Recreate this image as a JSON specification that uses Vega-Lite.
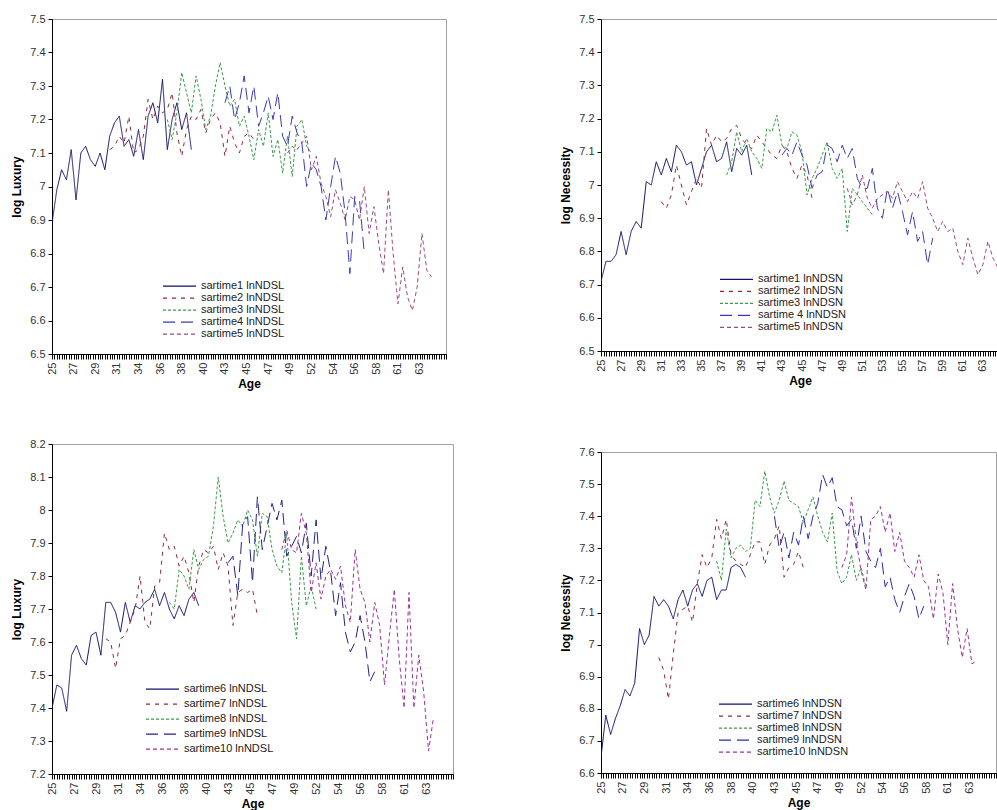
{
"$schema": "https://vega.github.io/schema/vega-lite/v6.json",
"background": "white",
"padding": {"left": 10, "top": 12, "right": 0, "bottom": 0},
"spacing": 100,
"resolve": {"scale": {"color": "independent", "strokeDash": "independent"}, "legend": {"color": "independent", "strokeDash": "independent"}},
"config": {
  "font": "Liberation Sans",
  "view": {"stroke": "#a0a0a0", "strokeWidth": 1},
  "axis": {"grid": false, "domainColor": "#000000", "tickColor": "#000000", "labelColor": "#333333", "labelFontSize": 11, "titleFontSize": 12, "titleFontWeight": "bold", "titleColor": "#000000", "labelFont": "Liberation Sans", "titleFont": "Liberation Sans"},
  "axisX": {"labelAngle": -90, "labelAlign": "right", "labelBaseline": "middle", "tickSize": 5, "labelOverlap": false, "labelFlush": false, "labelPadding": 3, "titlePadding": 4},
  "axisY": {"tickSize": 4, "labelPadding": 3, "titlePadding": 6, "labelOverlap": false},
  "legend": {"orient": "none", "symbolType": "stroke", "symbolSize": 1089, "symbolStrokeWidth": 1.2, "labelFontSize": 11, "labelColor": "#222222", "rowPadding": 0, "labelOffset": 4, "padding": 0}
},
"datasets": {
"tl": [
{"Age":25,"sartime1":6.89},{"Age":25.5,"sartime1":6.99},{"Age":26,"sartime1":7.05},{"Age":26.5,"sartime1":7.02},{"Age":27,"sartime1":7.11},{"Age":27.5,"sartime1":6.96},{"Age":28,"sartime1":7.10},{"Age":28.5,"sartime1":7.12},{"Age":29,"sartime1":7.08},{"Age":29.5,"sartime1":7.06},{"Age":30,"sartime1":7.10},{"Age":30.5,"sartime1":7.05},
{"Age":31,"sartime1":7.15,"sartime2":7.11},{"Age":31.5,"sartime1":7.19,"sartime2":7.12},{"Age":32,"sartime1":7.21,"sartime2":7.15},{"Age":32.5,"sartime1":7.12,"sartime2":7.13},{"Age":33,"sartime1":7.14,"sartime2":7.21},{"Age":33.5,"sartime1":7.09,"sartime2":7.10},{"Age":34,"sartime1":7.17,"sartime2":7.11},{"Age":34.5,"sartime1":7.08,"sartime2":7.15},{"Age":35,"sartime1":7.21,"sartime2":7.26},{"Age":35.5,"sartime1":7.25,"sartime2":7.20},{"Age":36,"sartime1":7.19,"sartime2":7.24},{"Age":36.5,"sartime1":7.32,"sartime2":7.22},
{"Age":37,"sartime1":7.11,"sartime2":7.23,"sartime3":7.20},{"Age":37.5,"sartime1":7.20,"sartime2":7.28,"sartime3":7.14},{"Age":38,"sartime1":7.25,"sartime2":7.16,"sartime3":7.22},{"Age":38.5,"sartime1":7.17,"sartime2":7.09,"sartime3":7.34},{"Age":39,"sartime1":7.22,"sartime2":7.17,"sartime3":7.28},{"Age":39.5,"sartime1":7.11,"sartime2":7.21,"sartime3":7.22},
{"Age":40,"sartime2":7.20,"sartime3":7.33},{"Age":40.5,"sartime2":7.23,"sartime3":7.26},{"Age":41,"sartime2":7.16,"sartime3":7.17},{"Age":41.5,"sartime2":7.20,"sartime3":7.21},{"Age":42,"sartime2":7.22,"sartime3":7.30},{"Age":42.5,"sartime2":7.19,"sartime3":7.37},
{"Age":43,"sartime2":7.09,"sartime3":7.30,"sartime4":7.25},{"Age":43.5,"sartime2":7.18,"sartime3":7.24,"sartime4":7.30},{"Age":44,"sartime2":7.13,"sartime3":7.26,"sartime4":7.20},{"Age":44.5,"sartime2":7.10,"sartime3":7.18,"sartime4":7.25},{"Age":45,"sartime2":7.15,"sartime3":7.21,"sartime4":7.33},{"Age":45.5,"sartime2":7.16,"sartime3":7.15,"sartime4":7.22},{"Age":46,"sartime2":7.14,"sartime3":7.08,"sartime4":7.30},
{"Age":46.5,"sartime3":7.17,"sartime4":7.18},{"Age":47,"sartime3":7.12,"sartime4":7.22},{"Age":47.5,"sartime3":7.22,"sartime4":7.27},{"Age":48,"sartime3":7.09,"sartime4":7.20},{"Age":48.5,"sartime3":7.14,"sartime4":7.28},{"Age":49,"sartime3":7.04,"sartime4":7.15},
{"Age":49.5,"sartime3":7.15,"sartime4":7.12,"sartime5":7.10},{"Age":50,"sartime3":7.03,"sartime4":7.21,"sartime5":7.12},{"Age":50.5,"sartime3":7.18,"sartime4":7.16,"sartime5":7.11},{"Age":51,"sartime3":7.20,"sartime4":7.13,"sartime5":7.13},{"Age":51.5,"sartime3":7.12,"sartime4":7.00,"sartime5":7.15},{"Age":52,"sartime3":7.10,"sartime4":7.07,"sartime5":7.05},
{"Age":52.5,"sartime4":7.05,"sartime5":7.09},{"Age":53,"sartime4":7.00,"sartime5":7.01},{"Age":53.5,"sartime4":6.90,"sartime5":6.97},{"Age":54,"sartime4":7.00,"sartime5":6.91},{"Age":54.5,"sartime4":7.09,"sartime5":6.99},{"Age":55,"sartime4":7.04,"sartime5":6.95},{"Age":55.5,"sartime4":6.92,"sartime5":6.90},{"Age":56,"sartime4":6.74,"sartime5":6.97},{"Age":56.5,"sartime4":6.97,"sartime5":6.96},{"Age":57,"sartime4":6.96,"sartime5":6.90},{"Age":57.5,"sartime4":6.80,"sartime5":7.00},
{"Age":58,"sartime5":6.86},{"Age":58.5,"sartime5":6.94},{"Age":59,"sartime5":6.83},{"Age":59.5,"sartime5":6.74},{"Age":60,"sartime5":6.99},{"Age":60.5,"sartime5":6.80},{"Age":61,"sartime5":6.65},{"Age":61.5,"sartime5":6.76},{"Age":62,"sartime5":6.67},{"Age":62.5,"sartime5":6.63},{"Age":63,"sartime5":6.70},{"Age":63.5,"sartime5":6.86},{"Age":64,"sartime5":6.75},{"Age":64.5,"sartime5":6.73}
],
"tr": [
{"Age":25,"sartime1":6.71},{"Age":25.5,"sartime1":6.77},{"Age":26,"sartime1":6.77},{"Age":26.5,"sartime1":6.79},{"Age":27,"sartime1":6.86},{"Age":27.5,"sartime1":6.79},{"Age":28,"sartime1":6.86},{"Age":28.5,"sartime1":6.89},{"Age":29,"sartime1":6.87},{"Age":29.5,"sartime1":7.01},{"Age":30,"sartime1":7.00},{"Age":30.5,"sartime1":7.07},
{"Age":31,"sartime1":7.03,"sartime2":6.95},{"Age":31.5,"sartime1":7.08,"sartime2":6.93},{"Age":32,"sartime1":7.04,"sartime2":6.97},{"Age":32.5,"sartime1":7.12,"sartime2":7.06},{"Age":33,"sartime1":7.10,"sartime2":7.00},{"Age":33.5,"sartime1":7.06,"sartime2":6.94},{"Age":34,"sartime1":7.07,"sartime2":6.98},{"Age":34.5,"sartime1":7.00,"sartime2":7.02},{"Age":35,"sartime1":7.05,"sartime2":6.99},{"Age":35.5,"sartime1":7.10,"sartime2":7.17},{"Age":36,"sartime1":7.12,"sartime2":7.12},{"Age":36.5,"sartime1":7.07,"sartime2":7.15},{"Age":37,"sartime1":7.08,"sartime2":7.13},
{"Age":37.5,"sartime1":7.13,"sartime2":7.14,"sartime3":7.03},{"Age":38,"sartime1":7.04,"sartime2":7.17,"sartime3":7.07},{"Age":38.5,"sartime1":7.11,"sartime2":7.18,"sartime3":7.16},{"Age":39,"sartime1":7.09,"sartime2":7.14,"sartime3":7.10},{"Age":39.5,"sartime1":7.12,"sartime2":7.12,"sartime3":7.14},{"Age":40,"sartime1":7.03,"sartime2":7.11,"sartime3":7.10},
{"Age":40.5,"sartime2":7.15,"sartime3":7.08},{"Age":41,"sartime2":7.13,"sartime3":7.05},{"Age":41.5,"sartime2":7.11,"sartime3":7.17},{"Age":42,"sartime2":7.09,"sartime3":7.16},{"Age":42.5,"sartime2":7.08,"sartime3":7.21},
{"Age":43,"sartime2":7.12,"sartime3":7.12,"sartime 4":7.09},{"Age":43.5,"sartime2":7.10,"sartime3":7.11,"sartime 4":7.11},{"Age":44,"sartime2":7.05,"sartime3":7.16,"sartime 4":7.09},{"Age":44.5,"sartime2":7.02,"sartime3":7.15,"sartime 4":7.13},{"Age":45,"sartime2":7.06,"sartime3":7.10,"sartime 4":7.09},{"Age":45.5,"sartime2":7.03,"sartime3":6.97,"sartime 4":7.06},{"Age":46,"sartime2":6.96,"sartime3":7.02,"sartime 4":6.99},
{"Age":46.5,"sartime3":7.05,"sartime 4":7.03},{"Age":47,"sartime3":7.09,"sartime 4":7.04},{"Age":47.5,"sartime3":7.13,"sartime 4":7.12},{"Age":48,"sartime3":7.05,"sartime 4":7.11},{"Age":48.5,"sartime3":7.02,"sartime 4":7.07},{"Age":49,"sartime3":7.05,"sartime 4":7.12},
{"Age":49.5,"sartime3":6.86,"sartime 4":7.08,"sartime5":6.99},{"Age":50,"sartime3":6.99,"sartime 4":7.11,"sartime5":6.94},{"Age":50.5,"sartime3":6.97,"sartime 4":7.02,"sartime5":6.97},{"Age":51,"sartime3":6.95,"sartime 4":6.99,"sartime5":7.03},{"Age":51.5,"sartime3":6.93,"sartime 4":6.99,"sartime5":6.96},{"Age":52,"sartime3":6.91,"sartime 4":7.05,"sartime5":6.93},
{"Age":52.5,"sartime 4":6.93,"sartime5":6.96},{"Age":53,"sartime 4":6.90,"sartime5":6.97},{"Age":53.5,"sartime 4":6.99,"sartime5":6.98},{"Age":54,"sartime 4":6.93,"sartime5":6.96},{"Age":54.5,"sartime 4":6.98,"sartime5":7.01},{"Age":55,"sartime 4":6.92,"sartime5":6.98},{"Age":55.5,"sartime 4":6.85,"sartime5":6.95},{"Age":56,"sartime 4":6.92,"sartime5":6.98},{"Age":56.5,"sartime 4":6.83,"sartime5":6.96},{"Age":57,"sartime 4":6.86,"sartime5":7.01},{"Age":57.5,"sartime 4":6.76,"sartime5":6.93},{"Age":58,"sartime 4":6.84,"sartime5":6.90},
{"Age":58.5,"sartime5":6.86},{"Age":59,"sartime5":6.89},{"Age":59.5,"sartime5":6.86},{"Age":60,"sartime5":6.87},{"Age":60.5,"sartime5":6.80},{"Age":61,"sartime5":6.76},{"Age":61.5,"sartime5":6.84},{"Age":62,"sartime5":6.78},{"Age":62.5,"sartime5":6.73},{"Age":63,"sartime5":6.76},{"Age":63.5,"sartime5":6.83},{"Age":64,"sartime5":6.78},{"Age":64.5,"sartime5":6.75},{"Age":65,"sartime5":6.77},{"Age":65.5,"sartime5":6.76}
],
"bl": [
{"Age":25,"sartime6":7.40},{"Age":25.5,"sartime6":7.47},{"Age":26,"sartime6":7.46},{"Age":26.5,"sartime6":7.39},{"Age":27,"sartime6":7.56},{"Age":27.5,"sartime6":7.59},{"Age":28,"sartime6":7.55},{"Age":28.5,"sartime6":7.53},{"Age":29,"sartime6":7.62},{"Age":29.5,"sartime6":7.63},{"Age":30,"sartime6":7.56},
{"Age":30.5,"sartime6":7.72,"sartime7":7.61},{"Age":31,"sartime6":7.72,"sartime7":7.60},{"Age":31.5,"sartime6":7.69,"sartime7":7.52},{"Age":32,"sartime6":7.63,"sartime7":7.61},{"Age":32.5,"sartime6":7.72,"sartime7":7.62},{"Age":33,"sartime6":7.66,"sartime7":7.66},{"Age":33.5,"sartime6":7.71,"sartime7":7.70},{"Age":34,"sartime6":7.70,"sartime7":7.80},{"Age":34.5,"sartime6":7.72,"sartime7":7.66},{"Age":35,"sartime6":7.73,"sartime7":7.64},{"Age":35.5,"sartime6":7.76,"sartime7":7.77},{"Age":36,"sartime6":7.71,"sartime7":7.78},{"Age":36.5,"sartime6":7.75,"sartime7":7.93},
{"Age":37,"sartime6":7.70,"sartime7":7.88,"sartime8":7.72},{"Age":37.5,"sartime6":7.67,"sartime7":7.89,"sartime8":7.70},{"Age":38,"sartime6":7.71,"sartime7":7.83,"sartime8":7.82},{"Age":38.5,"sartime6":7.68,"sartime7":7.86,"sartime8":7.80},{"Age":39,"sartime6":7.73,"sartime7":7.81,"sartime8":7.76},{"Age":39.5,"sartime6":7.75,"sartime7":7.72,"sartime8":7.88},{"Age":40,"sartime6":7.71,"sartime7":7.83,"sartime8":7.82},
{"Age":40.5,"sartime7":7.88,"sartime8":7.85},{"Age":41,"sartime7":7.87,"sartime8":7.86},{"Age":41.5,"sartime7":7.89,"sartime8":7.95},{"Age":42,"sartime7":7.82,"sartime8":8.10},{"Age":42.5,"sartime7":7.87,"sartime8":7.98},
{"Age":43,"sartime7":7.83,"sartime8":7.90,"sartime9":7.84},{"Age":43.5,"sartime7":7.65,"sartime8":7.93,"sartime9":7.86},{"Age":44,"sartime7":7.75,"sartime8":7.97,"sartime9":7.74},{"Age":44.5,"sartime7":7.76,"sartime8":7.95,"sartime9":7.96},{"Age":45,"sartime7":7.75,"sartime8":8.00,"sartime9":7.98},{"Age":45.5,"sartime7":7.76,"sartime8":7.97,"sartime9":7.78},{"Age":46,"sartime7":7.68,"sartime8":7.86,"sartime9":8.04},
{"Age":46.5,"sartime8":7.99,"sartime9":7.88},{"Age":47,"sartime8":7.98,"sartime9":7.95},{"Age":47.5,"sartime8":7.88,"sartime9":8.02},{"Age":48,"sartime8":7.83,"sartime9":7.97},
{"Age":48.5,"sartime8":7.81,"sartime9":8.03,"sartime10":7.88},{"Age":49,"sartime8":7.93,"sartime9":7.86,"sartime10":7.94},{"Age":49.5,"sartime8":7.72,"sartime9":7.89,"sartime10":7.88},{"Age":50,"sartime8":7.61,"sartime9":7.92,"sartime10":7.87},{"Age":50.5,"sartime8":7.86,"sartime9":7.87,"sartime10":7.99},{"Age":51,"sartime8":7.71,"sartime9":7.96,"sartime10":7.93},{"Age":51.5,"sartime8":7.77,"sartime9":7.80,"sartime10":7.75},{"Age":52,"sartime8":7.70,"sartime9":7.97,"sartime10":7.84},
{"Age":52.5,"sartime9":7.79,"sartime10":7.73},{"Age":53,"sartime9":7.89,"sartime10":7.80},{"Age":53.5,"sartime9":7.81,"sartime10":7.82},{"Age":54,"sartime9":7.68,"sartime10":7.79},{"Age":54.5,"sartime9":7.78,"sartime10":7.83},{"Age":55,"sartime9":7.63,"sartime10":7.71},{"Age":55.5,"sartime9":7.57,"sartime10":7.66},{"Age":56,"sartime9":7.60,"sartime10":7.88},{"Age":56.5,"sartime9":7.68,"sartime10":7.76},{"Age":57,"sartime9":7.60,"sartime10":7.72},{"Age":57.5,"sartime9":7.48,"sartime10":7.60},{"Age":58,"sartime9":7.51,"sartime10":7.72},
{"Age":58.5,"sartime10":7.65},{"Age":59,"sartime10":7.47},{"Age":59.5,"sartime10":7.62},{"Age":60,"sartime10":7.76},{"Age":60.5,"sartime10":7.55},{"Age":61,"sartime10":7.40},{"Age":61.5,"sartime10":7.75},{"Age":62,"sartime10":7.40},{"Age":62.5,"sartime10":7.56},{"Age":63,"sartime10":7.45},{"Age":63.5,"sartime10":7.27},{"Age":64,"sartime10":7.37}
],
"br": [
{"Age":25,"sartime6":6.65},{"Age":25.5,"sartime6":6.78},{"Age":26,"sartime6":6.72},{"Age":26.5,"sartime6":6.77},{"Age":27,"sartime6":6.81},{"Age":27.5,"sartime6":6.86},{"Age":28,"sartime6":6.84},{"Age":28.5,"sartime6":6.88},{"Age":29,"sartime6":7.05},{"Age":29.5,"sartime6":7.00},{"Age":30,"sartime6":7.03},{"Age":30.5,"sartime6":7.15},
{"Age":31,"sartime6":7.12,"sartime7":6.96},{"Age":31.5,"sartime6":7.14,"sartime7":6.92},{"Age":32,"sartime6":7.12,"sartime7":6.83},{"Age":32.5,"sartime6":7.08,"sartime7":6.97},{"Age":33,"sartime6":7.14,"sartime7":7.10},{"Age":33.5,"sartime6":7.17,"sartime7":7.11},{"Age":34,"sartime6":7.12,"sartime7":7.12},{"Age":34.5,"sartime6":7.17,"sartime7":7.07},{"Age":35,"sartime6":7.19,"sartime7":7.19},{"Age":35.5,"sartime6":7.15,"sartime7":7.28},{"Age":36,"sartime6":7.20,"sartime7":7.24},{"Age":36.5,"sartime6":7.21,"sartime7":7.27},
{"Age":37,"sartime6":7.14,"sartime7":7.39,"sartime8":7.26},{"Age":37.5,"sartime6":7.17,"sartime7":7.33,"sartime8":7.20},{"Age":38,"sartime6":7.17,"sartime7":7.39,"sartime8":7.36},{"Age":38.5,"sartime6":7.24,"sartime7":7.28,"sartime8":7.27},{"Age":39,"sartime6":7.25,"sartime7":7.26,"sartime8":7.30},{"Age":39.5,"sartime6":7.24,"sartime7":7.25,"sartime8":7.31},{"Age":40,"sartime6":7.21,"sartime7":7.24,"sartime8":7.29},
{"Age":40.5,"sartime7":7.28,"sartime8":7.30},{"Age":41,"sartime7":7.32,"sartime8":7.45},{"Age":41.5,"sartime7":7.32,"sartime8":7.43},{"Age":42,"sartime7":7.25,"sartime8":7.54},{"Age":42.5,"sartime7":7.31,"sartime8":7.46},
{"Age":43,"sartime7":7.33,"sartime8":7.41,"sartime9":7.40},{"Age":43.5,"sartime7":7.37,"sartime8":7.45,"sartime9":7.30},{"Age":44,"sartime7":7.21,"sartime8":7.51,"sartime9":7.35},{"Age":44.5,"sartime7":7.24,"sartime8":7.45,"sartime9":7.27},{"Age":45,"sartime7":7.25,"sartime8":7.44,"sartime9":7.35},{"Age":45.5,"sartime7":7.29,"sartime8":7.43,"sartime9":7.31},{"Age":46,"sartime7":7.24,"sartime8":7.38,"sartime9":7.40},
{"Age":46.5,"sartime8":7.42,"sartime9":7.33},{"Age":47,"sartime8":7.46,"sartime9":7.40},{"Age":47.5,"sartime8":7.40,"sartime9":7.44},{"Age":48,"sartime8":7.35,"sartime9":7.53},{"Age":48.5,"sartime8":7.32,"sartime9":7.49},{"Age":49,"sartime8":7.41,"sartime9":7.52},{"Age":49.5,"sartime8":7.23,"sartime9":7.43},
{"Age":50,"sartime8":7.19,"sartime9":7.42,"sartime10":7.24},{"Age":50.5,"sartime8":7.21,"sartime9":7.37,"sartime10":7.28},{"Age":51,"sartime8":7.28,"sartime9":7.39,"sartime10":7.46},{"Age":51.5,"sartime8":7.20,"sartime9":7.30,"sartime10":7.32},{"Age":52,"sartime8":7.24,"sartime9":7.40,"sartime10":7.23},{"Age":52.5,"sartime8":7.18,"sartime9":7.29,"sartime10":7.17},
{"Age":53,"sartime9":7.26,"sartime10":7.39},{"Age":53.5,"sartime9":7.24,"sartime10":7.40},{"Age":54,"sartime9":7.30,"sartime10":7.43},{"Age":54.5,"sartime9":7.18,"sartime10":7.35},{"Age":55,"sartime9":7.21,"sartime10":7.41},{"Age":55.5,"sartime9":7.14,"sartime10":7.29},{"Age":56,"sartime9":7.10,"sartime10":7.35},{"Age":56.5,"sartime9":7.15,"sartime10":7.26},{"Age":57,"sartime9":7.19,"sartime10":7.24},{"Age":57.5,"sartime9":7.15,"sartime10":7.21},{"Age":58,"sartime9":7.08,"sartime10":7.28},{"Age":58.5,"sartime9":7.12,"sartime10":7.20},
{"Age":59,"sartime10":7.18},{"Age":59.5,"sartime10":7.08},{"Age":60,"sartime10":7.22},{"Age":60.5,"sartime10":7.16},{"Age":61,"sartime10":7.00},{"Age":61.5,"sartime10":7.19},{"Age":62,"sartime10":7.05},{"Age":62.5,"sartime10":6.96},{"Age":63,"sartime10":7.05},{"Age":63.5,"sartime10":6.94},{"Age":64,"sartime10":6.95}
]
},
"hconcat": [
{
"spacing": 47,
"resolve": {"scale": {"color": "independent", "strokeDash": "independent"}, "legend": {"color": "independent", "strokeDash": "independent"}},
"vconcat": [
{
"width": 394, "height": 335,
"data": {"name": "tl"},
"transform": [{"fold": ["sartime1","sartime2","sartime3","sartime4","sartime5"], "as": ["series","v"]}, {"filter": {"field": "v", "valid": true}}],
"mark": {"type": "line", "strokeWidth": 1, "clip": true},
"encoding": {
"x": {"field": "Age", "type": "quantitative", "scale": {"domain": [25,66], "nice": false, "zero": false},
 "axis": {"title": "Age", "labelExpr": "((datum.value - 25) * 4) % 9 == 0 && datum.value < 65 ? '' + floor(datum.value) : ''",
 "values": [25,25.25,25.5,25.75,26,26.25,26.5,26.75,27,27.25,27.5,27.75,28,28.25,28.5,28.75,29,29.25,29.5,29.75,30,30.25,30.5,30.75,31,31.25,31.5,31.75,32,32.25,32.5,32.75,33,33.25,33.5,33.75,34,34.25,34.5,34.75,35,35.25,35.5,35.75,36,36.25,36.5,36.75,37,37.25,37.5,37.75,38,38.25,38.5,38.75,39,39.25,39.5,39.75,40,40.25,40.5,40.75,41,41.25,41.5,41.75,42,42.25,42.5,42.75,43,43.25,43.5,43.75,44,44.25,44.5,44.75,45,45.25,45.5,45.75,46,46.25,46.5,46.75,47,47.25,47.5,47.75,48,48.25,48.5,48.75,49,49.25,49.5,49.75,50,50.25,50.5,50.75,51,51.25,51.5,51.75,52,52.25,52.5,52.75,53,53.25,53.5,53.75,54,54.25,54.5,54.75,55,55.25,55.5,55.75,56,56.25,56.5,56.75,57,57.25,57.5,57.75,58,58.25,58.5,58.75,59,59.25,59.5,59.75,60,60.25,60.5,60.75,61,61.25,61.5,61.75,62,62.25,62.5,62.75,63,63.25,63.5,63.75,64,64.25,64.5,64.75,65,65.25,65.5,65.75,66]}},
"y": {"field": "v", "type": "quantitative", "scale": {"domain": [6.5,7.5], "nice": false, "zero": false},
 "axis": {"title": "log Luxury", "format": ".1~f", "values": [6.5,6.6,6.7,6.8,6.9,7,7.1,7.2,7.3,7.4,7.5]}},
"color": {"field": "series", "type": "nominal", "scale": {"domain": ["sartime1","sartime2","sartime3","sartime4","sartime5"], "range": ["#10106a","#8e2a3c","#3a9a48","#3a3ab8","#9a4a7c"]},
 "legend": {"title": null, "legendX": 110, "legendY": 262, "clipHeight": 10.4, "labelExpr": "datum.label + ' lnNDSL'"}},
"strokeDash": {"field": "series", "type": "nominal", "scale": {"domain": ["sartime1","sartime2","sartime3","sartime4","sartime5"], "range": [[1,0],[4,5],[3,2],[12,6],[4,3]]},
 "legend": {"title": null, "legendX": 110, "legendY": 262, "clipHeight": 10.4, "labelExpr": "datum.label + ' lnNDSL'"}}
}
},
{
"width": 401, "height": 330,
"data": {"name": "bl"},
"transform": [{"fold": ["sartime6","sartime7","sartime8","sartime9","sartime10"], "as": ["series","v"]}, {"filter": {"field": "v", "valid": true}}],
"mark": {"type": "line", "strokeWidth": 1, "clip": true},
"encoding": {
"x": {"field": "Age", "type": "quantitative", "scale": {"domain": [25,66], "nice": false, "zero": false},
 "axis": {"title": "Age", "labelExpr": "((datum.value - 25) * 4) % 9 == 0 && datum.value < 65 ? '' + floor(datum.value) : ''",
 "values": [25,25.25,25.5,25.75,26,26.25,26.5,26.75,27,27.25,27.5,27.75,28,28.25,28.5,28.75,29,29.25,29.5,29.75,30,30.25,30.5,30.75,31,31.25,31.5,31.75,32,32.25,32.5,32.75,33,33.25,33.5,33.75,34,34.25,34.5,34.75,35,35.25,35.5,35.75,36,36.25,36.5,36.75,37,37.25,37.5,37.75,38,38.25,38.5,38.75,39,39.25,39.5,39.75,40,40.25,40.5,40.75,41,41.25,41.5,41.75,42,42.25,42.5,42.75,43,43.25,43.5,43.75,44,44.25,44.5,44.75,45,45.25,45.5,45.75,46,46.25,46.5,46.75,47,47.25,47.5,47.75,48,48.25,48.5,48.75,49,49.25,49.5,49.75,50,50.25,50.5,50.75,51,51.25,51.5,51.75,52,52.25,52.5,52.75,53,53.25,53.5,53.75,54,54.25,54.5,54.75,55,55.25,55.5,55.75,56,56.25,56.5,56.75,57,57.25,57.5,57.75,58,58.25,58.5,58.75,59,59.25,59.5,59.75,60,60.25,60.5,60.75,61,61.25,61.5,61.75,62,62.25,62.5,62.75,63,63.25,63.5,63.75,64,64.25,64.5,64.75,65,65.25,65.5,65.75,66]}},
"y": {"field": "v", "type": "quantitative", "scale": {"domain": [7.2,8.2], "nice": false, "zero": false},
 "axis": {"title": "log Luxury", "format": ".1~f", "values": [7.2,7.3,7.4,7.5,7.6,7.7,7.8,7.9,8,8.1,8.2]}},
"color": {"field": "series", "type": "nominal", "scale": {"domain": ["sartime6","sartime7","sartime8","sartime9","sartime10"], "range": ["#10106a","#8e2a3c","#3a9a48","#22228a","#993399"]},
 "legend": {"title": null, "legendX": 93, "legendY": 238, "clipHeight": 14.2, "labelExpr": "datum.label + ' lnNDSL'"}},
"strokeDash": {"field": "series", "type": "nominal", "scale": {"domain": ["sartime6","sartime7","sartime8","sartime9","sartime10"], "range": [[1,0],[4,5],[3,2],[12,6],[4,3]]},
 "legend": {"title": null, "legendX": 93, "legendY": 238, "clipHeight": 14.2, "labelExpr": "datum.label + ' lnNDSL'"}}
}
}
]
},
{
"spacing": 58,
"resolve": {"scale": {"color": "independent", "strokeDash": "independent"}, "legend": {"color": "independent", "strokeDash": "independent"}},
"vconcat": [
{
"width": 398, "height": 332,
"data": {"name": "tr"},
"transform": [{"fold": ["sartime1","sartime2","sartime3","sartime 4","sartime5"], "as": ["series","v"]}, {"filter": {"field": "v", "valid": true}}],
"mark": {"type": "line", "strokeWidth": 1, "clip": true},
"encoding": {
"x": {"field": "Age", "type": "quantitative", "scale": {"domain": [25,64.6], "nice": false, "zero": false},
 "axis": {"title": "Age", "labelExpr": "((datum.value - 25) * 4) % 8 == 0 ? '' + floor(datum.value) : ''",
 "values": [25,25.25,25.5,25.75,26,26.25,26.5,26.75,27,27.25,27.5,27.75,28,28.25,28.5,28.75,29,29.25,29.5,29.75,30,30.25,30.5,30.75,31,31.25,31.5,31.75,32,32.25,32.5,32.75,33,33.25,33.5,33.75,34,34.25,34.5,34.75,35,35.25,35.5,35.75,36,36.25,36.5,36.75,37,37.25,37.5,37.75,38,38.25,38.5,38.75,39,39.25,39.5,39.75,40,40.25,40.5,40.75,41,41.25,41.5,41.75,42,42.25,42.5,42.75,43,43.25,43.5,43.75,44,44.25,44.5,44.75,45,45.25,45.5,45.75,46,46.25,46.5,46.75,47,47.25,47.5,47.75,48,48.25,48.5,48.75,49,49.25,49.5,49.75,50,50.25,50.5,50.75,51,51.25,51.5,51.75,52,52.25,52.5,52.75,53,53.25,53.5,53.75,54,54.25,54.5,54.75,55,55.25,55.5,55.75,56,56.25,56.5,56.75,57,57.25,57.5,57.75,58,58.25,58.5,58.75,59,59.25,59.5,59.75,60,60.25,60.5,60.75,61,61.25,61.5,61.75,62,62.25,62.5,62.75,63,63.25,63.5,63.75,64,64.25,64.5]}},
"y": {"field": "v", "type": "quantitative", "scale": {"domain": [6.5,7.5], "nice": false, "zero": false},
 "axis": {"title": "log Necessity", "format": ".1~f", "values": [6.5,6.6,6.7,6.8,6.9,7,7.1,7.2,7.3,7.4,7.5]}},
"color": {"field": "series", "type": "nominal", "scale": {"domain": ["sartime1","sartime2","sartime3","sartime 4","sartime5"], "range": ["#10106a","#8e2a3c","#3a9a48","#3a3ab8","#9a4a7c"]},
 "legend": {"title": null, "legendX": 118, "legendY": 255, "clipHeight": 10.7, "labelExpr": "datum.label + ' lnNDSN'"}},
"strokeDash": {"field": "series", "type": "nominal", "scale": {"domain": ["sartime1","sartime2","sartime3","sartime 4","sartime5"], "range": [[1,0],[4,5],[3,2],[12,6],[4,3]]},
 "legend": {"title": null, "legendX": 118, "legendY": 255, "clipHeight": 10.7, "labelExpr": "datum.label + ' lnNDSN'"}}
}
},
{
"width": 395, "height": 321,
"data": {"name": "br"},
"transform": [{"fold": ["sartime6","sartime7","sartime8","sartime9","sartime10"], "as": ["series","v"]}, {"filter": {"field": "v", "valid": true}}],
"mark": {"type": "line", "strokeWidth": 1, "clip": true},
"encoding": {
"x": {"field": "Age", "type": "quantitative", "scale": {"domain": [25,66], "nice": false, "zero": false},
 "axis": {"title": "Age", "labelExpr": "((datum.value - 25) * 4) % 9 == 0 && datum.value < 65 ? '' + floor(datum.value) : ''",
 "values": [25,25.25,25.5,25.75,26,26.25,26.5,26.75,27,27.25,27.5,27.75,28,28.25,28.5,28.75,29,29.25,29.5,29.75,30,30.25,30.5,30.75,31,31.25,31.5,31.75,32,32.25,32.5,32.75,33,33.25,33.5,33.75,34,34.25,34.5,34.75,35,35.25,35.5,35.75,36,36.25,36.5,36.75,37,37.25,37.5,37.75,38,38.25,38.5,38.75,39,39.25,39.5,39.75,40,40.25,40.5,40.75,41,41.25,41.5,41.75,42,42.25,42.5,42.75,43,43.25,43.5,43.75,44,44.25,44.5,44.75,45,45.25,45.5,45.75,46,46.25,46.5,46.75,47,47.25,47.5,47.75,48,48.25,48.5,48.75,49,49.25,49.5,49.75,50,50.25,50.5,50.75,51,51.25,51.5,51.75,52,52.25,52.5,52.75,53,53.25,53.5,53.75,54,54.25,54.5,54.75,55,55.25,55.5,55.75,56,56.25,56.5,56.75,57,57.25,57.5,57.75,58,58.25,58.5,58.75,59,59.25,59.5,59.75,60,60.25,60.5,60.75,61,61.25,61.5,61.75,62,62.25,62.5,62.75,63,63.25,63.5,63.75,64,64.25,64.5,64.75,65,65.25,65.5,65.75,66]}},
"y": {"field": "v", "type": "quantitative", "scale": {"domain": [6.6,7.6], "nice": false, "zero": false},
 "axis": {"title": "log Necessity", "format": ".1~f", "values": [6.6,6.7,6.8,6.9,7,7.1,7.2,7.3,7.4,7.5,7.6]}},
"color": {"field": "series", "type": "nominal", "scale": {"domain": ["sartime6","sartime7","sartime8","sartime9","sartime10"], "range": ["#10106a","#8e2a3c","#3a9a48","#2a2ab0","#993399"]},
 "legend": {"title": null, "legendX": 117, "legendY": 247, "clipHeight": 10.4, "labelExpr": "datum.label + ' lnNDSN'"}},
"strokeDash": {"field": "series", "type": "nominal", "scale": {"domain": ["sartime6","sartime7","sartime8","sartime9","sartime10"], "range": [[1,0],[4,5],[3,2],[12,6],[4,3]]},
 "legend": {"title": null, "legendX": 117, "legendY": 247, "clipHeight": 10.4, "labelExpr": "datum.label + ' lnNDSN'"}}
}
}
]
}
]
}
